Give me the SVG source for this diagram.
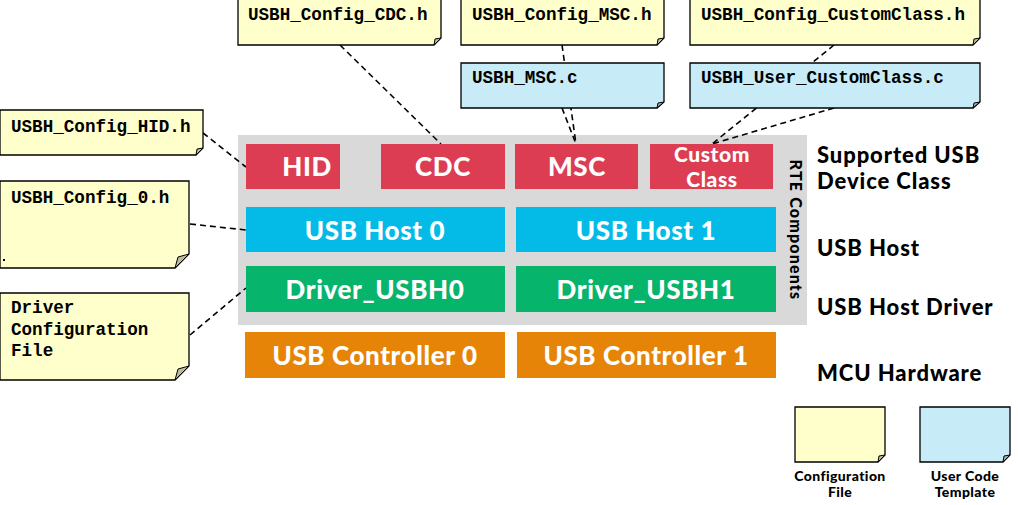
<svg xmlns="http://www.w3.org/2000/svg" width="1018" height="505" viewBox="0 0 1018 505">
  <style>
    .cfg { fill: #FFFFCC; stroke: #000; stroke-width: 1.3; }
    .tpl { fill: #C7ECF7; stroke: #000; stroke-width: 1.3; }
    .fold { fill: #BDBD9A; stroke: #000; stroke-width: 1; }
    .foldb { fill: #9FB3BA; stroke: #000; stroke-width: 1; }
    .mono { font-family: "Liberation Mono", "Courier New", monospace; font-weight: bold; font-size: 17.6px; fill: #000; }
    .blk { font-family: Lato, "Open Sans", sans-serif; font-weight: 900; font-size: 26px; letter-spacing: 0.6px; fill: #fff; text-anchor: middle; }
    .lbl { font-family: Lato, "Open Sans", sans-serif; font-weight: 900; font-size: 22px; letter-spacing: 0.9px; fill: #000; }
    .leg { font-family: Lato, "Open Sans", sans-serif; font-weight: 900; font-size: 14px; letter-spacing: 0.4px; fill: #000; text-anchor: middle; }
    .red { fill: #DC3D53; }
    .cyan { fill: #04BBE7; }
    .green { fill: #07B46B; }
    .orange { fill: #E58407; }
    .conn { fill: none; stroke: #000; stroke-width: 1.6; stroke-dasharray: 6 4; }
  </style>

  <!-- RTE component frame -->
  <rect id="rte-frame" x="238" y="135" width="569" height="190" fill="#D9D9D9"/>
  <text x="790" y="230" transform="rotate(90 790 230)" text-anchor="middle" style="font-family: Lato, 'Open Sans', sans-serif; font-weight: 900; font-size: 16px; letter-spacing: 1.2px; fill:#000">RTE Components</text>

  <!-- dashed connectors (drawn under the notes) -->
  <g id="connectors">
    <line class="conn" x1="203" y1="133" x2="246" y2="167"/>
    <line class="conn" x1="340" y1="45" x2="441" y2="144"/>
    <line class="conn" x1="562" y1="45" x2="576" y2="144"/>
    <line class="conn" x1="562" y1="108" x2="576" y2="144"/>
    <line class="conn" x1="834" y1="45" x2="712" y2="144"/>
    <line class="conn" x1="834" y1="108" x2="712" y2="144"/>
    <line class="conn" x1="190" y1="224" x2="246" y2="230"/>
    <line class="conn" x1="190" y1="335" x2="246" y2="288"/>
  </g>

  <!-- configuration / template notes -->
  <g id="note-cdc">
    <path class="cfg" d="M238,-1 H441 V38 L434,45 H238 Z"/>
    <path class="fold" d="M441,38 L434,45 L435,39 Z"/>
    <text class="mono" x="248" y="20">USBH_Config_CDC.h</text>
  </g>
  <g id="note-msc-h">
    <path class="cfg" d="M461,-1 H664 V38 L657,45 H461 Z"/>
    <path class="fold" d="M664,38 L657,45 L658,39 Z"/>
    <text class="mono" x="472" y="20">USBH_Config_MSC.h</text>
  </g>
  <g id="note-custom-h">
    <path class="cfg" d="M690,-1 H980 V38 L973,45 H690 Z"/>
    <path class="fold" d="M980,38 L973,45 L974,39 Z"/>
    <text class="mono" x="701" y="20">USBH_Config_CustomClass.h</text>
  </g>
  <g id="note-msc-c">
    <path class="tpl" d="M461,63 H664 V102 L657,108 H461 Z"/>
    <path class="foldb" d="M664,102 L657,108 L658,103 Z"/>
    <text class="mono" x="472" y="83">USBH_MSC.c</text>
  </g>
  <g id="note-custom-c">
    <path class="tpl" d="M690,63 H980 V102 L973,108 H690 Z"/>
    <path class="foldb" d="M980,102 L973,108 L974,103 Z"/>
    <text class="mono" x="701" y="83">USBH_User_CustomClass.c</text>
  </g>
  <g id="note-hid">
    <path class="cfg" d="M0,110 H203 V148 L196,155 H0 Z"/>
    <path class="fold" d="M203,148 L196,155 L197,149 Z"/>
    <text class="mono" x="11" y="132">USBH_Config_HID.h</text>
  </g>
  <g id="note-cfg0">
    <path class="cfg" d="M0,181 H189 V254 L175,268 H0 Z"/>
    <path class="fold" d="M189,254 L175,268 L178,257 Z"/>
    <text class="mono" x="11" y="203">USBH_Config_0.h</text>
    <rect x="3" y="259" width="2" height="2" fill="#000"/>
  </g>
  <g id="note-driver">
    <path class="cfg" d="M0,293 H189 V366 L175,380 H0 Z"/>
    <path class="fold" d="M189,366 L175,380 L178,369 Z"/>
    <text class="mono" x="11" y="313">Driver</text>
    <text class="mono" x="11" y="335">Configuration</text>
    <text class="mono" x="11" y="356">File</text>
  </g>

  <!-- device class row -->
  <g id="hid"><rect class="red" x="246" y="144" width="94" height="45"/><text class="blk" x="307" y="176">HID</text></g>
  <g id="cdc"><rect class="red" x="381" y="144" width="124" height="45"/><text class="blk" x="443" y="176">CDC</text></g>
  <g id="msc"><rect class="red" x="515" y="144" width="123" height="45"/><text class="blk" x="577" y="176">MSC</text></g>
  <g id="custom"><rect class="red" x="650" y="144" width="123" height="45"/><text class="blk" x="712" y="162" style="font-size:21px">Custom</text><text class="blk" x="712" y="187" style="font-size:21px">Class</text></g>

  <!-- host row -->
  <g id="host0"><rect class="cyan" x="246" y="207" width="259" height="45"/><text class="blk" x="375" y="240">USB Host 0</text></g>
  <g id="host1"><rect class="cyan" x="516" y="207" width="260" height="45"/><text class="blk" x="646" y="240">USB Host 1</text></g>

  <!-- driver row -->
  <g id="drv0"><rect class="green" x="246" y="266" width="259" height="46"/><text class="blk" x="375" y="299">Driver_USBH0</text></g>
  <g id="drv1"><rect class="green" x="516" y="266" width="260" height="46"/><text class="blk" x="646" y="299">Driver_USBH1</text></g>

  <!-- hardware row -->
  <g id="ctrl0"><rect class="orange" x="245" y="332" width="260" height="46"/><text class="blk" x="375" y="365">USB Controller 0</text></g>
  <g id="ctrl1"><rect class="orange" x="517" y="332" width="259" height="46"/><text class="blk" x="646" y="365">USB Controller 1</text></g>

  <!-- layer labels -->
  <g id="layer-labels">
    <text class="lbl" x="817" y="163">Supported USB</text>
    <text class="lbl" x="817" y="189">Device Class</text>
    <text class="lbl" x="817" y="256">USB Host</text>
    <text class="lbl" x="817" y="315">USB Host Driver</text>
    <text class="lbl" x="817" y="381">MCU Hardware</text>
  </g>

  <!-- legend -->
  <g id="legend-config">
    <path class="cfg" d="M795,407 H885 V455 L878,462 H795 Z"/>
    <path class="fold" d="M885,455 L878,462 L879,456 Z"/>
    <text class="leg" x="840" y="481">Configuration</text>
    <text class="leg" x="840" y="497">File</text>
  </g>
  <g id="legend-template">
    <path class="tpl" d="M920,407 H1010 V455 L1003,462 H920 Z"/>
    <path class="foldb" d="M1010,455 L1003,462 L1004,456 Z"/>
    <text class="leg" x="965" y="481">User Code</text>
    <text class="leg" x="965" y="497">Template</text>
  </g>
</svg>
